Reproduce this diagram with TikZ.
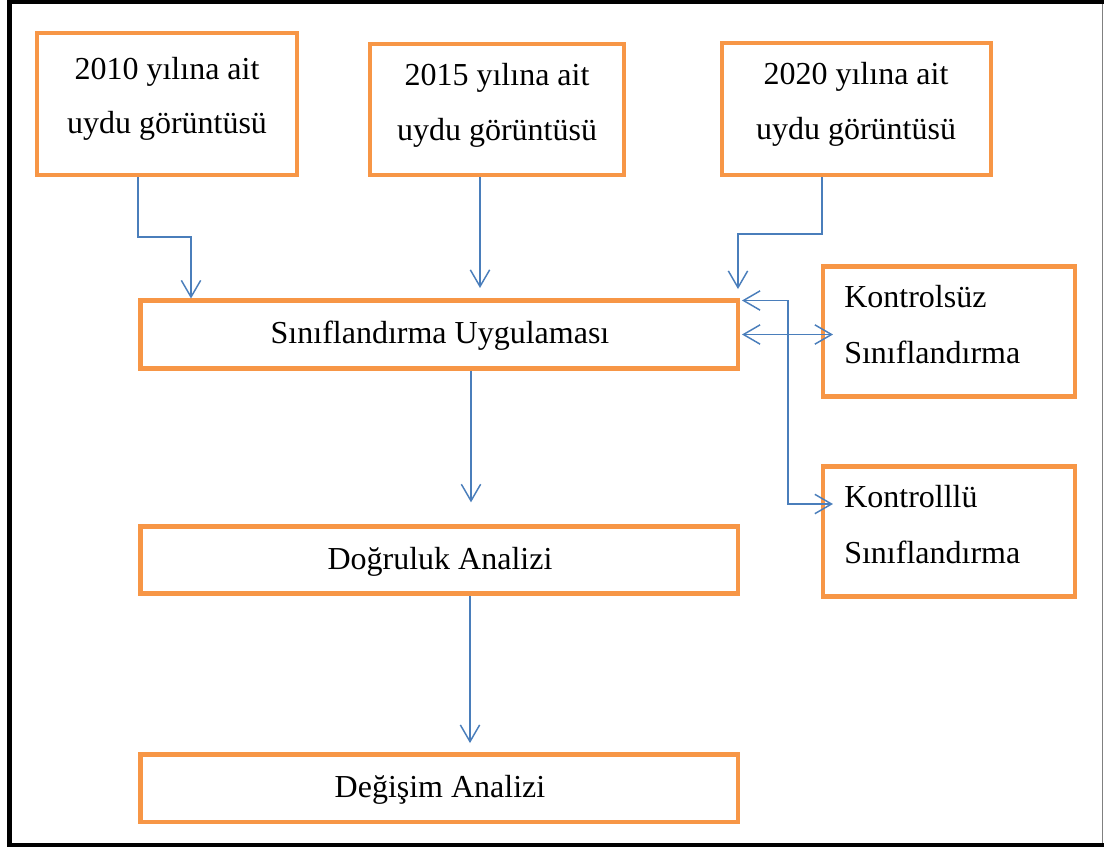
\documentclass[tikz,border=0pt]{standalone}
\usepackage{fontspec}
\setmainfont{Liberation Serif}
\usetikzlibrary{arrows.meta}
\definecolor{boxorange}{HTML}{F79646}
\definecolor{arrblue}{HTML}{4A7EBB}
\tikzset{
  box/.style={draw=boxorange, line width=3.3pt, fill=white, rectangle, inner sep=0pt, outer sep=0pt},
  txt/.style={anchor=base, inner sep=0pt, font=\fontsize{24}{29}\selectfont},
  ltxt/.style={anchor=base west, inner sep=0pt, font=\fontsize{24}{29}\selectfont},
  arr/.style={draw=arrblue, line width=1.1pt, -{Straight Barb[length=12.5pt,width=14.5pt]}},
  darr/.style={draw=arrblue, line width=1.1pt, {Straight Barb[length=12.5pt,width=14.5pt]}-{Straight Barb[length=12.5pt,width=14.5pt]}}
}
\begin{document}
\begin{tikzpicture}[x=0.75pt,y=-0.75pt]
\useasboundingbox (0,0) rectangle (1104,847);
% frame
\draw[black, line width=3.3pt] (1104,2) -- (9.5,2) -- (9.5,845) -- (1104,845);
\draw[gray, line width=0.8pt] (1102.5,4) -- (1102.5,843);
% boxes
\node[box, minimum width=195pt, minimum height=106.5pt] (b2010) at (167,104) {};
\node[box, minimum width=190.5pt, minimum height=98.25pt] (b2015) at (497,109.5) {};
\node[box, minimum width=201.75pt, minimum height=99pt] (b2020) at (856.5,109) {};
\node[box, minimum width=448.1pt, minimum height=51pt] (bUyg) at (439.25,334.5) {};
\node[box, minimum width=448.1pt, minimum height=50.5pt] (bDog) at (439.25,560) {};
\node[box, minimum width=448.1pt, minimum height=50.6pt] (bDeg) at (439.25,788.25) {};
\node[box, minimum width=188.8pt, minimum height=97.5pt] (bKs) at (948.85,331.5) {};
\node[box, minimum width=188.8pt, minimum height=97.5pt] (bKl) at (948.85,531.5) {};
% texts
\node[txt] (t2010a) at (167,79) {2010 yılına ait};
\node[txt] (t2010b) at (167,133) {uydu görüntüsü};
\node[txt] (t2015a) at (497,85) {2015 yılına ait};
\node[txt] (t2015b) at (497,140) {uydu görüntüsü};
\node[txt] (t2020a) at (856,84) {2020 yılına ait};
\node[txt] (t2020b) at (856,139) {uydu görüntüsü};
\node[txt] (tUyg) at (440,343) {Sınıflandırma Uygulaması};
\node[txt] (tDog) at (440,569) {Doğruluk Analizi};
\node[txt] (tDeg) at (440,797) {Değişim Analizi};
\node[ltxt] (tKs1) at (844,307) {Kontrolsüz};
\node[ltxt] (tKs2) at (844,363) {Sınıflandırma};
\node[ltxt] (tKl1) at (844,507) {Kontrolllü};
\node[ltxt] (tKl2) at (844,563) {Sınıflandırma};
% helper coordinates
\coordinate (k1) at (138,237);
\coordinate (k1b) at (191,237);
\coordinate (k2) at (480,237);
\coordinate (k3) at (822,234);
\coordinate (k3b) at (bUyg.north east |- k3);
\coordinate (k4) at (788,300.5);
\coordinate (k4b) at (788,504);
\coordinate (k6) at (471,400);
\coordinate (k7) at (470,650);
% connectors
\draw[arr, shorten <=1.6pt, shorten >=1.5pt] (b2010.south -| k1) -- (k1) -- (k1b) -- (bUyg.north -| k1b);
\draw[arr, shorten <=1.6pt, shorten >=9.4pt] (b2015.south -| k2) -- (bUyg.north -| k2);
\draw[arr, shorten <=1.6pt, shorten >=8.6pt] (b2020.south -| k3) -- (k3) -- (k3b) -- (bUyg.north east);
\draw[darr, shorten <=3pt, shorten >=-7.5pt] (bUyg.north east) -- (bUyg.north east -| k4) -- (k4b) -- (bKl.west |- k4b);
\draw[darr, shorten <=3pt, shorten >=-7.5pt] (bUyg.east) -- (bKs.west |- bUyg.east);
\draw[arr, shorten <=1.6pt, shorten >=18pt] (bUyg.south -| k6) -- (bDog.north -| k6);
\draw[arr, shorten <=1.6pt, shorten >=8.6pt] (bDog.south -| k7) -- (bDeg.north -| k7);
\end{tikzpicture}
\end{document}
